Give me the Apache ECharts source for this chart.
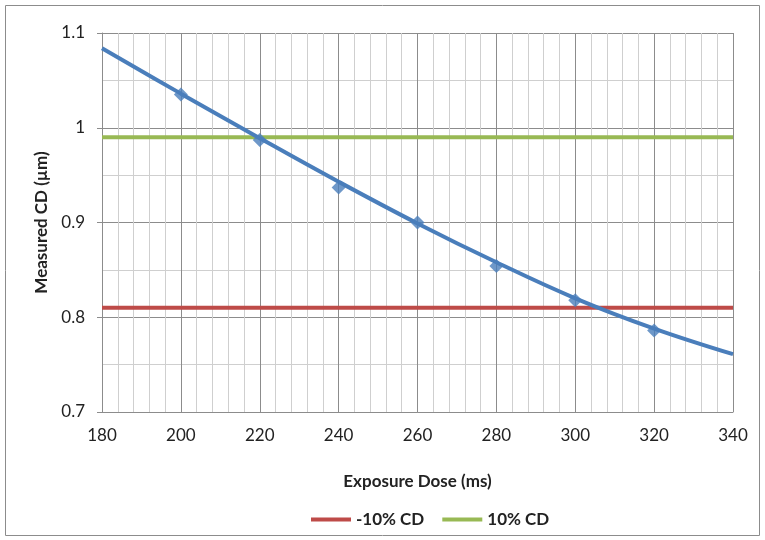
<!DOCTYPE html>
<html><head><meta charset="utf-8">
<script src="https://cdn.jsdelivr.net/npm/echarts@6/dist/echarts.min.js"></script>
<style>html,body{margin:0;padding:0;background:#fff}#c{width:765px;height:540px}</style>
</head><body><div id="c"></div>
<script>
const doseCurve = [180, 200, 220, 240, 260, 280, 300, 320, 340];
const cdCurve = [1.084, 1.036, 0.989, 0.943, 0.899, 0.858, 0.820, 0.788, 0.761];
const doseMeasured = [200, 220, 240, 260, 280, 300, 320];
const cdMeasured = [1.035, 0.987, 0.937, 0.900, 0.854, 0.818, 0.786];
const lowerLimit = 0.81;
const upperLimit = 0.99;
const xRange = [180, 340];
const seriesNames = ['-10% CD', '10% CD'];

const font = 'Lato, "Open Sans", sans-serif';
const chart = echarts.init(document.getElementById('c'));
chart.setOption({
  animation: false,
  graphic: [{type:'rect', shape:{x:5.5,y:5.5,width:754,height:530}, style:{fill:'none', stroke:'#8c8c8c', lineWidth:1}, silent:true}],
  grid: {left: 102, right: 32, top: 33, bottom: 128},
  legend: {
    data: seriesNames, top: 506, left: 306, itemWidth: 40, itemHeight: 4, itemGap: 18,
    icon: 'rect',
    textStyle: {fontFamily: font, fontWeight: 'bold', fontSize: 17, color: '#222'}
  },
  xAxis: {
    type: 'value', min: 180, max: 340, interval: 20,
    name: 'Exposure Dose (ms)', nameLocation: 'middle', nameGap: 61,
    nameTextStyle: {fontFamily: font, fontWeight: 'bold', fontSize: 17, color: '#222'},
    axisLine: {lineStyle: {color: '#8c8c8c'}},
    axisTick: {show: false},
    axisLabel: {fontFamily: font, fontSize: 17, color: '#222', margin: 15},
    splitLine: {show: true, lineStyle: {color: '#8c8c8c', width: 1}},
    minorTick: {show: false, splitNumber: 5},
    minorSplitLine: {show: true, lineStyle: {color: '#cfcfcf', width: 1}}
  },
  yAxis: {
    type: 'value', min: 0.7, max: 1.1, interval: 0.1,
    name: 'Measured CD (µm)', nameLocation: 'middle', nameGap: 52,
    nameTextStyle: {fontFamily: font, fontWeight: 'bold', fontSize: 17, color: '#222'},
    axisLine: {show: true, lineStyle: {color: '#8c8c8c'}},
    axisTick: {show: true, length: 5, lineStyle: {color: '#8c8c8c'}},
    axisLabel: {fontFamily: font, fontSize: 17, color: '#222', margin: 17,
      formatter: v => String(Math.round(v*10)/10)},
    splitLine: {show: true, lineStyle: {color: '#8c8c8c', width: 1}},
    minorTick: {show: false, splitNumber: 2},
    minorSplitLine: {show: true, lineStyle: {color: '#cfcfcf', width: 1}}
  },
  series: [
    {name: 'curve', type: 'line', smooth: 0.4, showSymbol: false, symbol: 'none',
     data: doseCurve.map((d,i)=>[d, cdCurve[i]]),
     lineStyle: {color: '#4A7EBB', width: 4}, z: 4},
    {name: 'measured', type: 'scatter', symbol: 'diamond', symbolSize: 14,
     data: doseMeasured.map((d,i)=>[d, cdMeasured[i]]),
     itemStyle: {color: '#4A7EBB'}, z: 5},
    {name: seriesNames[0], type: 'line', symbol: 'none',
     data: xRange.map(d=>[d, lowerLimit]),
     lineStyle: {color: '#BE4B48', width: 4}, itemStyle: {color: '#BE4B48'}, z: 3},
    {name: seriesNames[1], type: 'line', symbol: 'none',
     data: xRange.map(d=>[d, upperLimit]),
     lineStyle: {color: '#98B954', width: 4}, itemStyle: {color: '#98B954'}, z: 3}
  ]
});
</script></body></html>
